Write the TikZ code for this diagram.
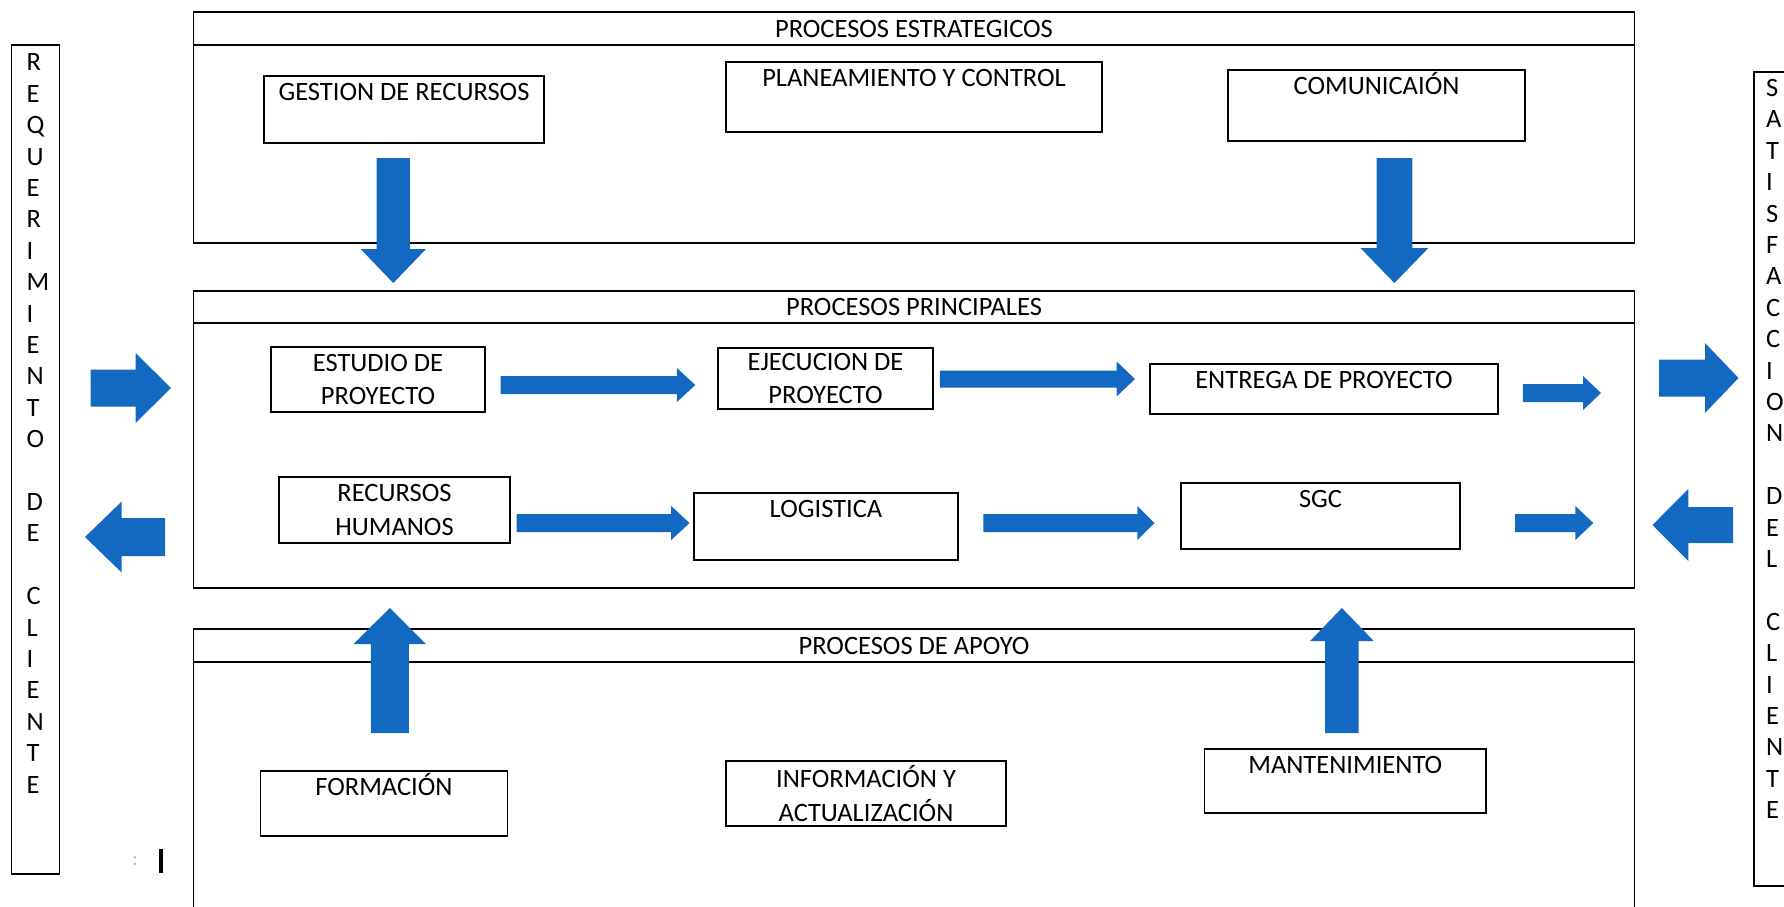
\documentclass[tikz,border=0pt]{standalone}
\usepackage{fontspec}
\setmainfont{Carlito}
\usepackage{tikz}
\usetikzlibrary{positioning,calc}
\definecolor{azul}{HTML}{1369C2}
\tikzstyle{caja}=[draw,line width=1.7pt,inner sep=0pt,outer sep=0pt,align=center]
\tikzstyle{seccion}=[caja,minimum width=1441]
\tikzstyle{letras}=[inner sep=0pt,align=left,anchor=north west,font=\fontsize{26.5}{31.4}\selectfont]
\tikzset{cajasup/.style={caja,text height=24.4pt,text depth=#1}}
% flecha de bloque: desde, hasta, medio cuerpo, media punta, largo punta
\newcommand{\flecha}[5]{%
  \coordinate (fb) at ($(#2)!#5!(#1)$);
  \fill[azul] ($(#1)!#3!90:(#2)$) -- ($(fb)!#3!-90:(#1)$) -- ($(fb)!#4!-90:(#1)$) -- (#2)
    -- ($(fb)!#4!90:(#1)$) -- ($(fb)!#3!90:(#1)$) -- ($(#1)!#3!-90:(#2)$) -- cycle;}

\begin{document}
\begin{tikzpicture}[x=1pt,y=-1pt,font=\fontsize{26.5}{33.5}\selectfont]
\useasboundingbox (0,0) rectangle (1784,906);

\node [caja,minimum width=48,minimum height=829,anchor=north west] (req) at (11.5,45) {};
\node [letras] (reqtxt) at ($(req.north west)+(15,8.6)$)
  {R\\E\\Q\\U\\E\\R\\I\\M\\I\\E\\N\\T\\O\\\mbox{}\\D\\E\\\mbox{}\\C\\L\\I\\E\\N\\T\\E};
\node [caja,minimum width=60,minimum height=814,anchor=north west] (sat) at (1754,72) {};
\node [letras] (sattxt) at ($(sat.north west)+(12,7)$)
  {S\\A\\T\\I\\S\\F\\A\\C\\C\\I\\O\\N\\\mbox{}\\D\\E\\L\\\mbox{}\\C\\L\\I\\E\\N\\T\\E};

\node [seccion,minimum height=33,anchor=north west] (tit1) at (193.5,12) {PROCESOS ESTRATEGICOS};
\node [seccion,minimum height=198,below=0pt of tit1] (estrat) {};
\node [seccion,minimum height=32,anchor=north west] (tit2) at (193.5,291) {PROCESOS PRINCIPALES};
\node [seccion,minimum height=265,below=0pt of tit2] (princ) {};
\node [seccion,minimum height=33,anchor=north west] (tit3) at (193.5,629) {PROCESOS DE APOYO};
\node [seccion,minimum height=300,below=0pt of tit3] (apoyo) {};

\node [cajasup=42.6pt,minimum width=280,anchor=north west] (gestion) at (264,76) {GESTION DE RECURSOS};
\node [cajasup=45.6pt,minimum width=376,anchor=north west] (plan) at (726,62) {PLANEAMIENTO Y CONTROL};
\node [cajasup=46.6pt,minimum width=297,anchor=north west] (comun) at (1228,70) {COMUNICAIÓN};

\node [caja,minimum width=213.5,minimum height=65] (estudio) at (378,379.5) {ESTUDIO DE\\PROYECTO};
\node [caja,minimum width=215,minimum height=61] (ejec) at (825.5,378.5) {EJECUCION DE\\PROYECTO};
\node [cajasup=25.6pt,minimum width=348,anchor=north west] (entrega) at (1150,364) {ENTREGA DE PROYECTO};
\node [caja,minimum width=231,minimum height=66] (rrhh) at (394.5,510) {RECURSOS\\HUMANOS};
\node [cajasup=42.6pt,minimum width=264,anchor=north west] (logis) at (694,493) {LOGISTICA};
\node [cajasup=41.6pt,minimum width=279,anchor=north west] (sgc) at (1181,483) {SGC};

\node [cajasup=40.6pt,minimum width=247,anchor=north west] (forma) at (260.5,771) {FORMACIÓN};
\node [caja,minimum width=280,minimum height=65] (info) at (866,793.5) {INFORMACIÓN Y\\ACTUALIZACIÓN};
\node [cajasup=39.6pt,minimum width=281.5,anchor=north west] (mant) at (1204.5,749) {MANTENIMIENTO};

\node [text=gray!55,inner sep=0pt,font=\fontsize{20}{20}\selectfont] (puntos) at (135,861) {:};
\node [fill=black,minimum width=4,minimum height=24,inner sep=0pt] (barra) at (161,861) {};

\coordinate (gestion-a) at (393.3,158); \coordinate (gestion-b) at (393.3,283);
\coordinate (comun-a) at (1394.4,158); \coordinate (comun-b) at (1394.4,283);
\coordinate (req-a) at (90.7,388); \coordinate (req-b) at (171,388);
\coordinate (req-c) at (165,537); \coordinate (req-d) at (85,537);
\coordinate (estudio-a) at (500.5,385); \coordinate (ejec-b) at (695.3,385);
\coordinate (ejec-a) at (939.8,379); \coordinate (entrega-b) at (1135,379);
\coordinate (entrega-a) at (1522.9,393); \coordinate (entrega-c) at (1601,393);
\coordinate (rrhh-a) at (516.6,523); \coordinate (logis-b) at (689.5,523);
\coordinate (logis-a) at (983.4,523); \coordinate (sgc-b) at (1154.5,523);
\coordinate (sgc-a) at (1515,523); \coordinate (sgc-c) at (1593.3,523);
\coordinate (sat-a) at (1659.2,378); \coordinate (sat-b) at (1738.5,378);
\coordinate (sat-c) at (1733,525); \coordinate (sat-d) at (1652.5,525);
\coordinate (forma-a) at (389.8,733); \coordinate (forma-b) at (389.8,608);
\coordinate (mant-a) at (1341.9,733); \coordinate (mant-b) at (1341.9,608);

\foreach \a/\b/\s/\h/\l in {gestion-a/gestion-b/16.6pt/32.7pt/34pt, comun-a/comun-b/17.9pt/34pt/35pt,
    req-a/req-b/18.5pt/35pt/35.5pt, req-c/req-d/19pt/35.5pt/36.7pt,
    estudio-a/ejec-b/9pt/17pt/18.4pt, ejec-a/entrega-b/8.5pt/17.5pt/18.4pt, entrega-a/entrega-c/9pt/17pt/17.9pt,
    rrhh-a/logis-b/9pt/17pt/18.3pt, logis-a/sgc-b/9pt/17pt/17.2pt, sgc-a/sgc-c/9pt/17pt/17.9pt,
    sat-a/sat-b/18.5pt/35pt/33.5pt, sat-c/sat-d/18pt/36pt/35.8pt,
    forma-a/forma-b/19pt/36.2pt/36pt, mant-a/mant-b/16.8pt/31.8pt/33pt}
  \flecha{\a}{\b}{\s}{\h}{\l};
\end{tikzpicture}
\end{document}
